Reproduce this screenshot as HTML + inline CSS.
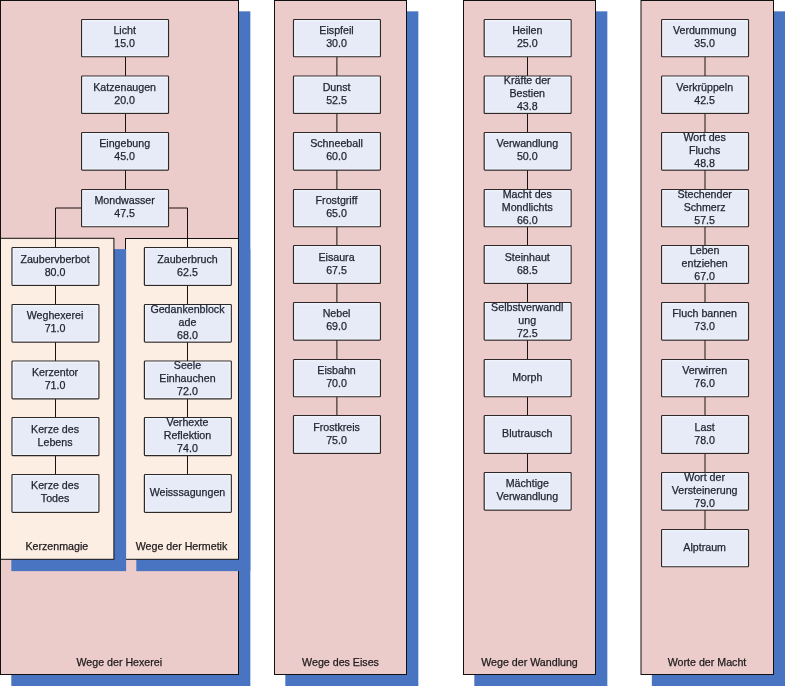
<!DOCTYPE html>
<html><head><meta charset="utf-8"><style>
html,body{margin:0;padding:0;background:#fff;}
body{width:785px;height:686px;overflow:hidden;}
svg{display:block;will-change:transform;}
text{font-family:"Liberation Sans",sans-serif;font-size:10.667px;fill:#1f2230;text-anchor:middle;stroke:#1f2230;stroke-width:0.25px;}
text.l{fill:#1e1a1c;stroke:#1e1a1c;}
</style></head><body>
<svg width="785" height="686" viewBox="0 0 785 686">
<rect x="11.33" y="11.33" width="239.00" height="675.00" fill="#4874c2"/>
<rect x="0.5" y="0.5" width="238.00" height="674.00" fill="#ebcccb" stroke="#111" stroke-width="1"/>
<rect x="136.33" y="249.33" width="114.00" height="321.80" fill="#4874c2"/>
<rect x="125.5" y="238.5" width="113.00" height="320.80" fill="#fdeee4" stroke="#111" stroke-width="1"/>
<rect x="11.33" y="249.13" width="114.80" height="322.00" fill="#4874c2"/>
<rect x="0.5" y="238.3" width="113.40" height="321.00" fill="#fdeee4" stroke="#111" stroke-width="1"/>
<line x1="55.50" y1="208.00" x2="81.60" y2="208.00" stroke="#1a1212" stroke-width="1"/>
<line x1="55.50" y1="208.00" x2="55.50" y2="247.50" stroke="#1a1212" stroke-width="1"/>
<line x1="168.50" y1="208.00" x2="187.50" y2="208.00" stroke="#1a1212" stroke-width="1"/>
<line x1="187.50" y1="208.00" x2="187.50" y2="247.50" stroke="#1a1212" stroke-width="1"/>
<line x1="125.50" y1="56.76" x2="125.50" y2="76.00" stroke="#1a1212" stroke-width="1"/>
<line x1="125.50" y1="113.43" x2="125.50" y2="132.50" stroke="#1a1212" stroke-width="1"/>
<line x1="125.50" y1="170.09" x2="125.50" y2="189.50" stroke="#1a1212" stroke-width="1"/>
<rect x="81.60" y="19.50" width="86.9" height="37.26" rx="0.8" fill="#e6ebf7" stroke="#2e2828" stroke-width="1.2"/>
<rect x="82.90" y="20.80" width="84.30" height="34.66" fill="none" stroke="#f7f9fd" stroke-width="1" opacity="0.7"/>
<text x="124.65" y="34.11">Licht</text>
<text x="124.65" y="47.11">15.0</text>
<rect x="81.60" y="76.00" width="86.9" height="37.43" rx="0.8" fill="#e6ebf7" stroke="#2e2828" stroke-width="1.2"/>
<rect x="82.90" y="77.30" width="84.30" height="34.83" fill="none" stroke="#f7f9fd" stroke-width="1" opacity="0.7"/>
<text x="124.65" y="90.78">Katzenaugen</text>
<text x="124.65" y="103.78">20.0</text>
<rect x="81.60" y="132.50" width="86.9" height="37.59" rx="0.8" fill="#e6ebf7" stroke="#2e2828" stroke-width="1.2"/>
<rect x="82.90" y="133.80" width="84.30" height="34.99" fill="none" stroke="#f7f9fd" stroke-width="1" opacity="0.7"/>
<text x="124.65" y="147.44">Eingebung</text>
<text x="124.65" y="160.44">45.0</text>
<rect x="81.60" y="189.50" width="86.9" height="37.26" rx="0.8" fill="#e6ebf7" stroke="#2e2828" stroke-width="1.2"/>
<rect x="82.90" y="190.80" width="84.30" height="34.66" fill="none" stroke="#f7f9fd" stroke-width="1" opacity="0.7"/>
<text x="124.65" y="204.11">Mondwasser</text>
<text x="124.65" y="217.11">47.5</text>
<line x1="55.50" y1="285.40" x2="55.50" y2="304.50" stroke="#1a1212" stroke-width="1"/>
<line x1="55.50" y1="342.12" x2="55.50" y2="361.00" stroke="#1a1212" stroke-width="1"/>
<line x1="55.50" y1="398.84" x2="55.50" y2="417.50" stroke="#1a1212" stroke-width="1"/>
<line x1="55.50" y1="455.56" x2="55.50" y2="474.50" stroke="#1a1212" stroke-width="1"/>
<rect x="12.00" y="247.50" width="86.9" height="37.90" rx="0.8" fill="#e6ebf7" stroke="#2e2828" stroke-width="1.2"/>
<rect x="13.30" y="248.80" width="84.30" height="35.30" fill="none" stroke="#f7f9fd" stroke-width="1" opacity="0.7"/>
<text x="55.05" y="262.50">Zaubervberbot</text>
<text x="55.05" y="275.50">80.0</text>
<rect x="12.00" y="304.50" width="86.9" height="37.62" rx="0.8" fill="#e6ebf7" stroke="#2e2828" stroke-width="1.2"/>
<rect x="13.30" y="305.80" width="84.30" height="35.02" fill="none" stroke="#f7f9fd" stroke-width="1" opacity="0.7"/>
<text x="55.05" y="319.22">Weghexerei</text>
<text x="55.05" y="332.22">71.0</text>
<rect x="12.00" y="361.00" width="86.9" height="37.84" rx="0.8" fill="#e6ebf7" stroke="#2e2828" stroke-width="1.2"/>
<rect x="13.30" y="362.30" width="84.30" height="35.24" fill="none" stroke="#f7f9fd" stroke-width="1" opacity="0.7"/>
<text x="55.05" y="375.94">Kerzentor</text>
<text x="55.05" y="388.94">71.0</text>
<rect x="12.00" y="417.50" width="86.9" height="38.06" rx="0.8" fill="#e6ebf7" stroke="#2e2828" stroke-width="1.2"/>
<rect x="13.30" y="418.80" width="84.30" height="35.46" fill="none" stroke="#f7f9fd" stroke-width="1" opacity="0.7"/>
<text x="55.05" y="432.66">Kerze des</text>
<text x="55.05" y="445.66">Lebens</text>
<rect x="12.00" y="474.50" width="86.9" height="37.78" rx="0.8" fill="#e6ebf7" stroke="#2e2828" stroke-width="1.2"/>
<rect x="13.30" y="475.80" width="84.30" height="35.18" fill="none" stroke="#f7f9fd" stroke-width="1" opacity="0.7"/>
<text x="55.05" y="489.38">Kerze des</text>
<text x="55.05" y="502.38">Todes</text>
<line x1="187.50" y1="285.40" x2="187.50" y2="304.50" stroke="#1a1212" stroke-width="1"/>
<line x1="187.50" y1="342.12" x2="187.50" y2="361.00" stroke="#1a1212" stroke-width="1"/>
<line x1="187.50" y1="398.84" x2="187.50" y2="417.50" stroke="#1a1212" stroke-width="1"/>
<line x1="187.50" y1="455.56" x2="187.50" y2="474.50" stroke="#1a1212" stroke-width="1"/>
<rect x="144.40" y="247.50" width="86.9" height="37.90" rx="0.8" fill="#e6ebf7" stroke="#2e2828" stroke-width="1.2"/>
<rect x="145.70" y="248.80" width="84.30" height="35.30" fill="none" stroke="#f7f9fd" stroke-width="1" opacity="0.7"/>
<text x="187.45" y="262.50">Zauberbruch</text>
<text x="187.45" y="275.50">62.5</text>
<rect x="144.40" y="304.50" width="86.9" height="37.62" rx="0.8" fill="#e6ebf7" stroke="#2e2828" stroke-width="1.2"/>
<rect x="145.70" y="305.80" width="84.30" height="35.02" fill="none" stroke="#f7f9fd" stroke-width="1" opacity="0.7"/>
<text x="187.45" y="312.72">Gedankenblock</text>
<text x="187.45" y="325.72">ade</text>
<text x="187.45" y="338.72">68.0</text>
<rect x="144.40" y="361.00" width="86.9" height="37.84" rx="0.8" fill="#e6ebf7" stroke="#2e2828" stroke-width="1.2"/>
<rect x="145.70" y="362.30" width="84.30" height="35.24" fill="none" stroke="#f7f9fd" stroke-width="1" opacity="0.7"/>
<text x="187.45" y="369.44">Seele</text>
<text x="187.45" y="382.44">Einhauchen</text>
<text x="187.45" y="395.44">72.0</text>
<rect x="144.40" y="417.50" width="86.9" height="38.06" rx="0.8" fill="#e6ebf7" stroke="#2e2828" stroke-width="1.2"/>
<rect x="145.70" y="418.80" width="84.30" height="35.46" fill="none" stroke="#f7f9fd" stroke-width="1" opacity="0.7"/>
<text x="187.45" y="426.16">Verhexte</text>
<text x="187.45" y="439.16">Reflektion</text>
<text x="187.45" y="452.16">74.0</text>
<rect x="144.40" y="474.50" width="86.9" height="37.78" rx="0.8" fill="#e6ebf7" stroke="#2e2828" stroke-width="1.2"/>
<rect x="145.70" y="475.80" width="84.30" height="35.18" fill="none" stroke="#f7f9fd" stroke-width="1" opacity="0.7"/>
<text x="187.45" y="495.88">Weisssagungen</text>
<text class="l" x="56.8" y="550.2">Kerzenmagie</text>
<text class="l" x="181.5" y="550.2">Wege der Hermetik</text>
<text class="l" x="119.3" y="665.7">Wege der Hexerei</text>
<rect x="285.33" y="11.33" width="133.00" height="675.00" fill="#4874c2"/>
<rect x="274.5" y="0.5" width="132.00" height="674.00" fill="#ebcccb" stroke="#111" stroke-width="1"/>
<line x1="336.90" y1="56.76" x2="336.90" y2="76.00" stroke="#1a1212" stroke-width="1"/>
<line x1="336.90" y1="113.43" x2="336.90" y2="132.50" stroke="#1a1212" stroke-width="1"/>
<line x1="336.90" y1="170.09" x2="336.90" y2="189.50" stroke="#1a1212" stroke-width="1"/>
<line x1="336.90" y1="226.76" x2="336.90" y2="245.50" stroke="#1a1212" stroke-width="1"/>
<line x1="336.90" y1="283.43" x2="336.90" y2="302.50" stroke="#1a1212" stroke-width="1"/>
<line x1="336.90" y1="340.10" x2="336.90" y2="359.50" stroke="#1a1212" stroke-width="1"/>
<line x1="336.90" y1="396.76" x2="336.90" y2="415.50" stroke="#1a1212" stroke-width="1"/>
<rect x="293.50" y="19.50" width="86.9" height="37.26" rx="0.8" fill="#e6ebf7" stroke="#2e2828" stroke-width="1.2"/>
<rect x="294.80" y="20.80" width="84.30" height="34.66" fill="none" stroke="#f7f9fd" stroke-width="1" opacity="0.7"/>
<text x="336.55" y="34.11">Eispfeil</text>
<text x="336.55" y="47.11">30.0</text>
<rect x="293.50" y="76.00" width="86.9" height="37.43" rx="0.8" fill="#e6ebf7" stroke="#2e2828" stroke-width="1.2"/>
<rect x="294.80" y="77.30" width="84.30" height="34.83" fill="none" stroke="#f7f9fd" stroke-width="1" opacity="0.7"/>
<text x="336.55" y="90.78">Dunst</text>
<text x="336.55" y="103.78">52.5</text>
<rect x="293.50" y="132.50" width="86.9" height="37.59" rx="0.8" fill="#e6ebf7" stroke="#2e2828" stroke-width="1.2"/>
<rect x="294.80" y="133.80" width="84.30" height="34.99" fill="none" stroke="#f7f9fd" stroke-width="1" opacity="0.7"/>
<text x="336.55" y="147.44">Schneeball</text>
<text x="336.55" y="160.44">60.0</text>
<rect x="293.50" y="189.50" width="86.9" height="37.26" rx="0.8" fill="#e6ebf7" stroke="#2e2828" stroke-width="1.2"/>
<rect x="294.80" y="190.80" width="84.30" height="34.66" fill="none" stroke="#f7f9fd" stroke-width="1" opacity="0.7"/>
<text x="336.55" y="204.11">Frostgriff</text>
<text x="336.55" y="217.11">65.0</text>
<rect x="293.50" y="245.50" width="86.9" height="37.93" rx="0.8" fill="#e6ebf7" stroke="#2e2828" stroke-width="1.2"/>
<rect x="294.80" y="246.80" width="84.30" height="35.33" fill="none" stroke="#f7f9fd" stroke-width="1" opacity="0.7"/>
<text x="336.55" y="260.78">Eisaura</text>
<text x="336.55" y="273.78">67.5</text>
<rect x="293.50" y="302.50" width="86.9" height="37.60" rx="0.8" fill="#e6ebf7" stroke="#2e2828" stroke-width="1.2"/>
<rect x="294.80" y="303.80" width="84.30" height="35.00" fill="none" stroke="#f7f9fd" stroke-width="1" opacity="0.7"/>
<text x="336.55" y="317.44">Nebel</text>
<text x="336.55" y="330.44">69.0</text>
<rect x="293.50" y="359.50" width="86.9" height="37.26" rx="0.8" fill="#e6ebf7" stroke="#2e2828" stroke-width="1.2"/>
<rect x="294.80" y="360.80" width="84.30" height="34.66" fill="none" stroke="#f7f9fd" stroke-width="1" opacity="0.7"/>
<text x="336.55" y="374.11">Eisbahn</text>
<text x="336.55" y="387.11">70.0</text>
<rect x="293.50" y="415.50" width="86.9" height="37.93" rx="0.8" fill="#e6ebf7" stroke="#2e2828" stroke-width="1.2"/>
<rect x="294.80" y="416.80" width="84.30" height="35.33" fill="none" stroke="#f7f9fd" stroke-width="1" opacity="0.7"/>
<text x="336.55" y="430.78">Frostkreis</text>
<text x="336.55" y="443.78">75.0</text>
<text class="l" x="340.5" y="665.7">Wege des Eises</text>
<rect x="474.33" y="11.33" width="133.00" height="675.00" fill="#4874c2"/>
<rect x="463.5" y="0.5" width="132.00" height="674.00" fill="#ebcccb" stroke="#111" stroke-width="1"/>
<line x1="527.50" y1="56.76" x2="527.50" y2="76.00" stroke="#1a1212" stroke-width="1"/>
<line x1="527.50" y1="113.43" x2="527.50" y2="132.50" stroke="#1a1212" stroke-width="1"/>
<line x1="527.50" y1="170.09" x2="527.50" y2="189.50" stroke="#1a1212" stroke-width="1"/>
<line x1="527.50" y1="226.76" x2="527.50" y2="245.50" stroke="#1a1212" stroke-width="1"/>
<line x1="527.50" y1="283.43" x2="527.50" y2="302.50" stroke="#1a1212" stroke-width="1"/>
<line x1="527.50" y1="340.10" x2="527.50" y2="359.50" stroke="#1a1212" stroke-width="1"/>
<line x1="527.50" y1="396.76" x2="527.50" y2="415.50" stroke="#1a1212" stroke-width="1"/>
<line x1="527.50" y1="453.43" x2="527.50" y2="472.50" stroke="#1a1212" stroke-width="1"/>
<rect x="484.20" y="19.50" width="86.9" height="37.26" rx="0.8" fill="#e6ebf7" stroke="#2e2828" stroke-width="1.2"/>
<rect x="485.50" y="20.80" width="84.30" height="34.66" fill="none" stroke="#f7f9fd" stroke-width="1" opacity="0.7"/>
<text x="527.25" y="34.11">Heilen</text>
<text x="527.25" y="47.11">25.0</text>
<rect x="484.20" y="76.00" width="86.9" height="37.43" rx="0.8" fill="#e6ebf7" stroke="#2e2828" stroke-width="1.2"/>
<rect x="485.50" y="77.30" width="84.30" height="34.83" fill="none" stroke="#f7f9fd" stroke-width="1" opacity="0.7"/>
<text x="527.25" y="84.28">Kräfte der</text>
<text x="527.25" y="97.28">Bestien</text>
<text x="527.25" y="110.28">43.8</text>
<rect x="484.20" y="132.50" width="86.9" height="37.59" rx="0.8" fill="#e6ebf7" stroke="#2e2828" stroke-width="1.2"/>
<rect x="485.50" y="133.80" width="84.30" height="34.99" fill="none" stroke="#f7f9fd" stroke-width="1" opacity="0.7"/>
<text x="527.25" y="147.44">Verwandlung</text>
<text x="527.25" y="160.44">50.0</text>
<rect x="484.20" y="189.50" width="86.9" height="37.26" rx="0.8" fill="#e6ebf7" stroke="#2e2828" stroke-width="1.2"/>
<rect x="485.50" y="190.80" width="84.30" height="34.66" fill="none" stroke="#f7f9fd" stroke-width="1" opacity="0.7"/>
<text x="527.25" y="197.61">Macht des</text>
<text x="527.25" y="210.61">Mondlichts</text>
<text x="527.25" y="223.61">66.0</text>
<rect x="484.20" y="245.50" width="86.9" height="37.93" rx="0.8" fill="#e6ebf7" stroke="#2e2828" stroke-width="1.2"/>
<rect x="485.50" y="246.80" width="84.30" height="35.33" fill="none" stroke="#f7f9fd" stroke-width="1" opacity="0.7"/>
<text x="527.25" y="260.78">Steinhaut</text>
<text x="527.25" y="273.78">68.5</text>
<rect x="484.20" y="302.50" width="86.9" height="37.60" rx="0.8" fill="#e6ebf7" stroke="#2e2828" stroke-width="1.2"/>
<rect x="485.50" y="303.80" width="84.30" height="35.00" fill="none" stroke="#f7f9fd" stroke-width="1" opacity="0.7"/>
<text x="527.25" y="310.94">Selbstverwandl</text>
<text x="527.25" y="323.94">ung</text>
<text x="527.25" y="336.94">72.5</text>
<rect x="484.20" y="359.50" width="86.9" height="37.26" rx="0.8" fill="#e6ebf7" stroke="#2e2828" stroke-width="1.2"/>
<rect x="485.50" y="360.80" width="84.30" height="34.66" fill="none" stroke="#f7f9fd" stroke-width="1" opacity="0.7"/>
<text x="527.25" y="380.61">Morph</text>
<rect x="484.20" y="415.50" width="86.9" height="37.93" rx="0.8" fill="#e6ebf7" stroke="#2e2828" stroke-width="1.2"/>
<rect x="485.50" y="416.80" width="84.30" height="35.33" fill="none" stroke="#f7f9fd" stroke-width="1" opacity="0.7"/>
<text x="527.25" y="437.28">Blutrausch</text>
<rect x="484.20" y="472.50" width="86.9" height="37.60" rx="0.8" fill="#e6ebf7" stroke="#2e2828" stroke-width="1.2"/>
<rect x="485.50" y="473.80" width="84.30" height="35.00" fill="none" stroke="#f7f9fd" stroke-width="1" opacity="0.7"/>
<text x="527.25" y="487.45">Mächtige</text>
<text x="527.25" y="500.45">Verwandlung</text>
<text class="l" x="529.5" y="665.7">Wege der Wandlung</text>
<rect x="651.83" y="11.33" width="133.50" height="675.00" fill="#4874c2"/>
<rect x="641.0" y="0.5" width="132.50" height="674.00" fill="#ebcccb" stroke="#111" stroke-width="1"/>
<line x1="705.00" y1="56.76" x2="705.00" y2="76.00" stroke="#1a1212" stroke-width="1"/>
<line x1="705.00" y1="113.43" x2="705.00" y2="132.50" stroke="#1a1212" stroke-width="1"/>
<line x1="705.00" y1="170.09" x2="705.00" y2="189.50" stroke="#1a1212" stroke-width="1"/>
<line x1="705.00" y1="226.76" x2="705.00" y2="245.50" stroke="#1a1212" stroke-width="1"/>
<line x1="705.00" y1="283.43" x2="705.00" y2="302.50" stroke="#1a1212" stroke-width="1"/>
<line x1="705.00" y1="340.10" x2="705.00" y2="359.50" stroke="#1a1212" stroke-width="1"/>
<line x1="705.00" y1="396.76" x2="705.00" y2="415.50" stroke="#1a1212" stroke-width="1"/>
<line x1="705.00" y1="453.43" x2="705.00" y2="472.50" stroke="#1a1212" stroke-width="1"/>
<line x1="705.00" y1="510.10" x2="705.00" y2="529.50" stroke="#1a1212" stroke-width="1"/>
<rect x="661.60" y="19.50" width="86.9" height="37.26" rx="0.8" fill="#e6ebf7" stroke="#2e2828" stroke-width="1.2"/>
<rect x="662.90" y="20.80" width="84.30" height="34.66" fill="none" stroke="#f7f9fd" stroke-width="1" opacity="0.7"/>
<text x="704.65" y="34.11">Verdummung</text>
<text x="704.65" y="47.11">35.0</text>
<rect x="661.60" y="76.00" width="86.9" height="37.43" rx="0.8" fill="#e6ebf7" stroke="#2e2828" stroke-width="1.2"/>
<rect x="662.90" y="77.30" width="84.30" height="34.83" fill="none" stroke="#f7f9fd" stroke-width="1" opacity="0.7"/>
<text x="704.65" y="90.78">Verkrüppeln</text>
<text x="704.65" y="103.78">42.5</text>
<rect x="661.60" y="132.50" width="86.9" height="37.59" rx="0.8" fill="#e6ebf7" stroke="#2e2828" stroke-width="1.2"/>
<rect x="662.90" y="133.80" width="84.30" height="34.99" fill="none" stroke="#f7f9fd" stroke-width="1" opacity="0.7"/>
<text x="704.65" y="140.94">Wort des</text>
<text x="704.65" y="153.94">Fluchs</text>
<text x="704.65" y="166.94">48.8</text>
<rect x="661.60" y="189.50" width="86.9" height="37.26" rx="0.8" fill="#e6ebf7" stroke="#2e2828" stroke-width="1.2"/>
<rect x="662.90" y="190.80" width="84.30" height="34.66" fill="none" stroke="#f7f9fd" stroke-width="1" opacity="0.7"/>
<text x="704.65" y="197.61">Stechender</text>
<text x="704.65" y="210.61">Schmerz</text>
<text x="704.65" y="223.61">57.5</text>
<rect x="661.60" y="245.50" width="86.9" height="37.93" rx="0.8" fill="#e6ebf7" stroke="#2e2828" stroke-width="1.2"/>
<rect x="662.90" y="246.80" width="84.30" height="35.33" fill="none" stroke="#f7f9fd" stroke-width="1" opacity="0.7"/>
<text x="704.65" y="254.28">Leben</text>
<text x="704.65" y="267.28">entziehen</text>
<text x="704.65" y="280.28">67.0</text>
<rect x="661.60" y="302.50" width="86.9" height="37.60" rx="0.8" fill="#e6ebf7" stroke="#2e2828" stroke-width="1.2"/>
<rect x="662.90" y="303.80" width="84.30" height="35.00" fill="none" stroke="#f7f9fd" stroke-width="1" opacity="0.7"/>
<text x="704.65" y="317.44">Fluch bannen</text>
<text x="704.65" y="330.44">73.0</text>
<rect x="661.60" y="359.50" width="86.9" height="37.26" rx="0.8" fill="#e6ebf7" stroke="#2e2828" stroke-width="1.2"/>
<rect x="662.90" y="360.80" width="84.30" height="34.66" fill="none" stroke="#f7f9fd" stroke-width="1" opacity="0.7"/>
<text x="704.65" y="374.11">Verwirren</text>
<text x="704.65" y="387.11">76.0</text>
<rect x="661.60" y="415.50" width="86.9" height="37.93" rx="0.8" fill="#e6ebf7" stroke="#2e2828" stroke-width="1.2"/>
<rect x="662.90" y="416.80" width="84.30" height="35.33" fill="none" stroke="#f7f9fd" stroke-width="1" opacity="0.7"/>
<text x="704.65" y="430.78">Last</text>
<text x="704.65" y="443.78">78.0</text>
<rect x="661.60" y="472.50" width="86.9" height="37.60" rx="0.8" fill="#e6ebf7" stroke="#2e2828" stroke-width="1.2"/>
<rect x="662.90" y="473.80" width="84.30" height="35.00" fill="none" stroke="#f7f9fd" stroke-width="1" opacity="0.7"/>
<text x="704.65" y="480.95">Wort der</text>
<text x="704.65" y="493.95">Versteinerung</text>
<text x="704.65" y="506.95">79.0</text>
<rect x="661.60" y="529.50" width="86.9" height="37.26" rx="0.8" fill="#e6ebf7" stroke="#2e2828" stroke-width="1.2"/>
<rect x="662.90" y="530.80" width="84.30" height="34.66" fill="none" stroke="#f7f9fd" stroke-width="1" opacity="0.7"/>
<text x="704.65" y="550.61">Alptraum</text>
<text class="l" x="707" y="665.7">Worte der Macht</text>
</svg>
</body></html>
